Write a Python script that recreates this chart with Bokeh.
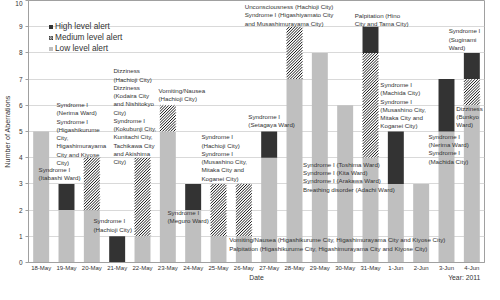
from bokeh.plotting import figure
from bokeh.models import (Range1d, Legend, LegendItem, ColumnDataSource,
                          FixedTicker, LinearAxis)
from bokeh.core.properties import value
from bokeh.embed import file_html
from bokeh.resources import INLINE

# ---- data ----
dates = ["18-May", "19-May", "20-May", "21-May", "22-May", "23-May", "24-May",
         "25-May", "26-May", "27-May", "28-May", "29-May", "30-May", "31-May",
         "1-Jun", "2-Jun", "3-Jun", "4-Jun"]
low_alert = [5, 2, 2, 0, 1, 5, 2, 1, 1, 4, 7, 8, 6, 4, 3, 3, 5, 6]
medium_alert = [0, 0, 2, 0, 3, 1, 0, 2, 2, 0, 2, 0, 0, 4, 0, 0, 0, 1]
high_alert = [0, 1, 0, 1, 0, 0, 1, 0, 0, 1, 0, 0, 0, 1, 2, 0, 2, 1]
series_names = ["Low level alert", "Medium level alert", "High level alert"]
x_title = "Date"
year_note = "Year: 2011"

ann_texts = [
    "Syndrome I\n(Itabashi Ward)",
    "Syndrome I\n(Nerima Ward)\nSyndrome I\n(Higashikurume\nCity,\nHigashimurayama\nCity and Kiyose\nCity)",
    "Syndrome I\n(Hachioji City)",
    "Dizziness\n(Hachioji City)\nDizziness\n(Kodaira City\nand Nishitokyo\nCity)\nSyndrome I\n(Kokubunji City,\nKunitachi City,\nTachikawa City\nand Akishima\nCity)",
    "Vomiting/Nausea\n(Hachioji City)",
    "Syndrome I\n(Meguro Ward)",
    "Syndrome I\n(Hachioji City)\nSyndrome I\n(Musashino City,\nMitaka City and\nKoganei City)",
    "Syndrome I\n(Setagaya Ward)",
    "Unconsciousness (Hachioji City)\nSyndrome I  (Higashiyamato City\nand Musashimurayama City)",
    "Palpitation (Hino\nCity and Tama City)",
    "Syndrome I\n(Suginami\nWard)",
    "Syndrome I\n(Machida City)\nSyndrome I\n(Musashino City,\nMitaka City and\nKoganei City)",
    "Dizziness\n(Bunkyo\nWard)",
    "Syndrome I\n(Nerima Ward)\nSyndrome I\n(Machida City)",
    "Syndrome I  (Toshima Ward)\nSyndrome I  (Kita Ward)\nSyndrome I  (Arakawa Ward)\nBreathing disorder (Adachi Ward)",
    "Vomiting/Nausea (Higashikurume City, Higashimurayama City and Kiyose City)\nPalpitation (Higashikurume City, Higashimurayama City and Kiyose City)",
]
# anchor (date category, value) of each annotation
ann_cat = ["19-May", "20-May", "21-May", "22-May", "23-May", "24-May", "25-May",
           "27-May", "28-May", "31-May", "4-Jun", "1-Jun", "4-Jun", "3-Jun",
           "31-May", "26-May"]
ann_val = [3.70, 6.16, 1.72, 7.45, 6.69, 2.04, 4.93, 5.71, 9.90, 9.58, 8.97,
           6.92, 6.03, 4.95, 3.88, 1.00]
ann_dx = [-28, -35.4, -23.7, -29.1, -9.4, -25.7, -17.1, -20.8, -49.8, -15.8,
          -23.2, -15.5, -15.5, -18.1, -67.4, -14.7]

FONT = "Liberation Sans"
TXT = "#333333"
FRAME_W, FRAME_H = 456, 262
STEP = 10                     # axis units per date slot
BAR_W = 0.63 * STEP

pos = [STEP * i for i in range(len(dates))]
x_lo, x_hi = -STEP / 2, STEP * len(dates) - STEP / 2

p = figure(x_range=Range1d(x_lo, x_hi), y_range=Range1d(0, 10),
           frame_width=FRAME_W, frame_height=FRAME_H, output_backend="svg",
           toolbar_location=None, title=None, min_border_left=24,
           min_border_right=4, min_border_top=0, min_border_bottom=10)
axA = p.xaxis[0]
axY = p.yaxis[0]

src = ColumnDataSource(dict(x=pos, low=low_alert, medium=medium_alert,
                            high=high_alert))
rs = p.vbar_stack(["low", "medium", "high"], x="x", width=BAR_W, source=src,
                  fill_color=["#bfbfbf", "#ffffff", "#333333"], line_color=None)

# diagonal hatching of the medium-level segments, derived from the stacked data
px_x = FRAME_W / (x_hi - x_lo)
px_y = FRAME_H / 10.0
period = 2.8
hx0, hy0, hx1, hy1 = [], [], [], []
for xc, b, m in zip(pos, low_alert, medium_alert):
    if m == 0:
        continue
    X0 = (xc - BAR_W / 2 - x_lo) * px_x
    X1 = (xc + BAR_W / 2 - x_lo) * px_x
    Y0 = b * px_y
    Y1 = (b + m) * px_y
    k = int((X0 - Y1) // period)
    while k * period <= X1 - Y0:
        c = k * period
        xa = max(X0, Y0 + c)
        xb = min(X1, Y1 + c)
        if xb > xa:
            hx0.append(xa / px_x + x_lo); hy0.append((xa - c) / px_y)
            hx1.append(xb / px_x + x_lo); hy1.append((xb - c) / px_y)
        k += 1
p.segment(x0=hx0, y0=hy0, x1=hx1, y1=hy1, line_color="#000000", line_width=0.9)

# legend swatch for the hatched series (zero-height, invisible in the plot)
med_swatch = p.vbar(x=[pos[0]], top=[0], bottom=[0], width=BAR_W,
                    fill_color="#ffffff", line_color=None,
                    hatch_pattern="/", hatch_color="#000000", hatch_scale=2.5,
                    hatch_weight=0.8)

legend = Legend(items=[LegendItem(label=series_names[2], renderers=[rs[2]]),
                       LegendItem(label=series_names[1], renderers=[med_swatch]),
                       LegendItem(label=series_names[0], renderers=[rs[0]])],
                location=(20, 209), padding=0, spacing=1, label_height=10,
                glyph_width=5, glyph_height=5, label_standoff=2,
                border_line_color=None, background_fill_alpha=0,
                label_text_font=FONT, label_text_font_size="8.3px",
                label_text_color=TXT)
p.add_layout(legend)

ann_x = [pos[dates.index(c)] for c in ann_cat]
ann_src = ColumnDataSource(dict(x=ann_x, y=ann_val, dx=ann_dx, text=ann_texts))
p.text(x="x", y="y", text="text", x_offset="dx", source=ann_src,
       text_font=value(FONT), text_font_size="6.2px", text_line_height=1.18,
       text_align="left", text_baseline="top", text_color=TXT)

# axes / grid
p.xgrid.grid_line_color = None
p.ygrid.grid_line_color = "#d9d9d9"
p.outline_line_color = "#a0a0a0"
for ax in (axA, axY):
    ax.axis_line_color = "#a0a0a0"
    ax.major_label_text_font = FONT
    ax.major_label_text_color = TXT
    ax.minor_tick_line_color = None
    ax.minor_tick_out = 0
    ax.minor_tick_in = 0
axA.ticker = FixedTicker(ticks=pos)
axA.major_label_overrides = dict(zip(pos, dates))
axA.major_tick_line_color = None
axA.major_tick_out = 0
axA.major_tick_in = 0
axA.major_label_text_font_size = "6px"
axA.major_label_standoff = 2

axY.ticker = FixedTicker(ticks=list(range(11)))
axY.major_tick_line_color = "#a0a0a0"
axY.major_tick_out = 3
axY.major_tick_in = 0
axY.major_label_text_font_size = "6.5px"
axY.major_label_standoff = 3
axY.axis_label = "Number of Aberrations"
axY.axis_label_standoff = 0
axY.axis_label_text_font = FONT
axY.axis_label_text_font_style = "normal"
axY.axis_label_text_color = TXT
axY.axis_label_text_font_size = "7.2px"

# second row under the dates: the "Date" title and the year note
title_pos = (x_lo + x_hi) / 2
note_pos = pos[-1] - 3
axB = LinearAxis(ticker=FixedTicker(ticks=[title_pos, note_pos]),
                 major_label_overrides={title_pos: x_title, note_pos: year_note},
                 axis_line_color=None, major_tick_line_color=None,
                 major_tick_out=0, major_tick_in=0, minor_tick_line_color=None,
                 minor_tick_out=0, minor_tick_in=0, major_label_standoff=0,
                 major_label_text_font=FONT, major_label_text_font_size="6.8px",
                 major_label_text_color=TXT)
p.add_layout(axB, "below")

open("out.html", "w").write(file_html(p, INLINE))
